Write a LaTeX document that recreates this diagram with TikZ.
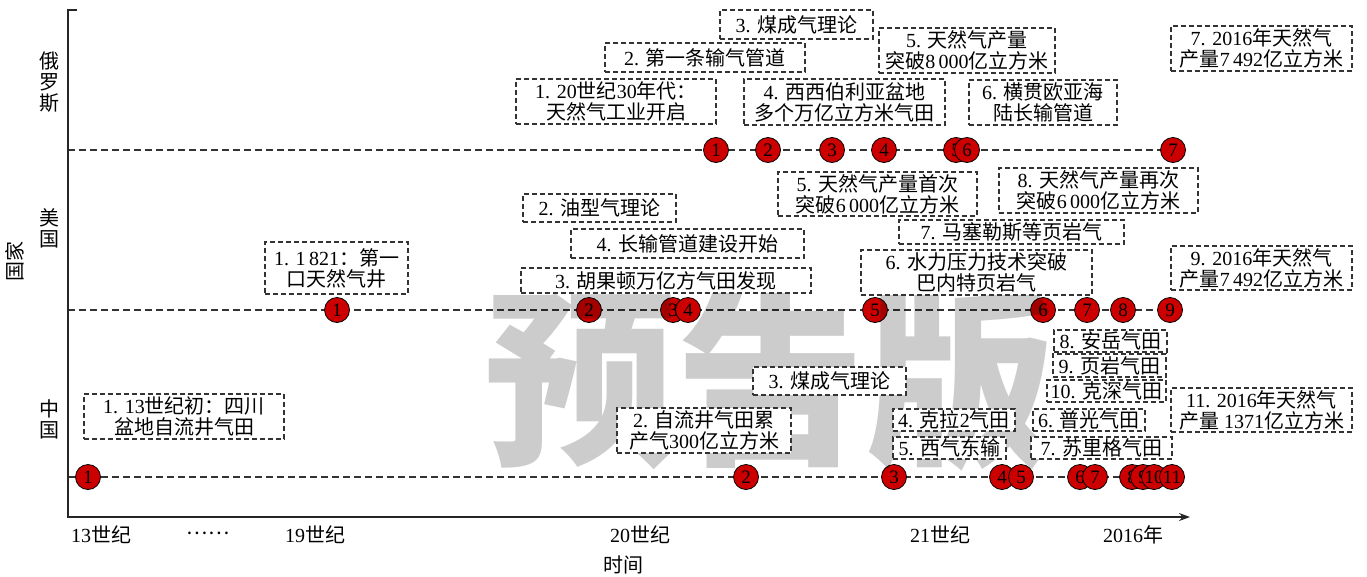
\documentclass[tikz,border=0pt]{standalone}
\usepackage{fontspec}
\setmainfont{Liberation Serif}
\newfontfamily\cjk{Noto Sans CJK SC}
\usetikzlibrary{arrows.meta,backgrounds}
\XeTeXinterchartokenstate=1
\newXeTeXintercharclass\CJKcls
\makeatletter
\count@="3000
\loop\ifnum\count@<"3040 \XeTeXcharclass\count@=\CJKcls \advance\count@ 1 \repeat
\count@="4E00
\loop\ifnum\count@<"A000 \XeTeXcharclass\count@=\CJKcls \advance\count@ 1 \repeat
\count@="FF00
\loop\ifnum\count@<"FF60 \XeTeXcharclass\count@=\CJKcls \advance\count@ 1 \repeat
\makeatother
\XeTeXinterchartoks 0 \CJKcls={\begingroup\cjk}
\XeTeXinterchartoks 4095 \CJKcls={\begingroup\cjk}
\XeTeXinterchartoks \CJKcls 0={\endgroup}
\XeTeXinterchartoks \CJKcls 4095={\endgroup}
\definecolor{dotred}{HTML}{CC0000}
\definecolor{ln}{HTML}{333333}
\newcommand\bxfont{\fontsize{20}{21}\selectfont}
\newcommand\dtfont{\fontsize{19}{19}\selectfont}
\tikzset{
  box/.style={draw=ln, dash pattern=on 5pt off 3pt, line width=1.1pt, fill=white, inner sep=0pt, align=center, font=\bxfont},
  dot/.style={circle, draw=black, line width=0.8pt, fill=dotred, minimum size=25pt, inner sep=0pt, font=\dtfont},
  tline/.style={draw=ln, line width=1.1pt, dash pattern=on 7pt off 4pt},
  axisline/.style={draw=black!85, line width=1.4pt},
  lab/.style={font=\bxfont, inner sep=0pt, align=center},
  wm/.style={font=\cjk\bfseries\fontsize{190}{190}\selectfont, text=black, text opacity=0.2, inner sep=0pt}
}
\begin{document}
\begin{tikzpicture}[x=1pt,y=-1pt]
\useasboundingbox (0,0) rectangle (1367,576);
% axes
\coordinate (atop) at (77,10);
\coordinate (acorner) at (68,10);
\coordinate (aorigin) at (68,517);
\coordinate (aend) at (1190,517);
\draw[axisline, -{Stealth[length=11pt,width=8pt]}] (atop) -- (acorner) -- (aorigin) -- (aend);
% timeline start points
\coordinate (rs) at (68,150);
\coordinate (us) at (68,310);
\coordinate (cs) at (68,477);
% circles
\node[dot] (r1) at (716,150) {1};
\node[dot] (r2) at (768,150) {2};
\node[dot] (r3) at (832,150) {3};
\node[dot] (r4) at (884,150) {4};
\node[dot] (r5) at (956,150) {5};
\node[dot] (r6) at (967,150) {6};
\node[dot] (r7) at (1173,150) {7};
\node[dot] (u1) at (337,310) {1};
\node[dot] (u2) at (589,310) {2};
\node[dot] (u3) at (673,310) {3};
\node[dot] (u4) at (688,310) {4};
\node[dot] (u5) at (875,310) {5};
\node[dot] (u6) at (1043,310) {6};
\node[dot] (u7) at (1087,310) {7};
\node[dot] (u8) at (1123,310) {8};
\node[dot] (u9) at (1170,310) {9};
\node[dot] (c1) at (88,477) {1};
\node[dot] (c2) at (746,477) {2};
\node[dot] (c3) at (894,477) {3};
\node[dot] (c4) at (1002,477) {4};
\node[dot] (c5) at (1021,477) {5};
\node[dot] (c6) at (1080,477) {6};
\node[dot] (c7) at (1095,477) {7};
\node[dot] (c8) at (1132,477) {8};
\node[dot] (c9) at (1143,477) {9};
\node[dot] (c10) at (1154,477) {10};
\node[dot] (c11) at (1172,477) {11};
% dashed timelines behind circles
\begin{scope}[on background layer]
\draw[tline] (rs) -- (r1.center) -- (r7.center);
\draw[tline] (us) -- (u1.center) -- (u9.center);
\draw[tline] (cs) -- (c1.center) -- (c11.center);
\end{scope}
% watermark
\node[wm] (wmk) at (770,380) {预告版};
% Russia boxes
\node[box, minimum width=153pt, minimum height=29pt] (rb3) at (796.5,24.5) {3. 煤成气理论};
\node[box, minimum width=200pt, minimum height=29pt] (rb2) at (705,57.5) {2. 第一条输气管道};
\node[box, minimum width=200pt, minimum height=45pt] (rb1) at (616,101.5) {1. 20世纪30年代：\\天然气工业开启};
\node[box, minimum width=201pt, minimum height=46pt] (rb4) at (844.5,102) {4. 西西伯利亚盆地\\多个万亿立方米气田};
\node[box, minimum width=176pt, minimum height=45pt] (rb5) at (967,50.5) {5. 天然气产量\\突破8\,000亿立方米};
\node[box, minimum width=148pt, minimum height=45pt] (rb6) at (1043,102.5) {6. 横贯欧亚海\\陆长输管道};
\node[box, minimum width=181pt, minimum height=45pt] (rb7) at (1261.5,48.5) {7. 2016年天然气\\产量7\,492亿立方米};
% US boxes
\node[box, minimum width=143pt, minimum height=52pt] (ub1) at (336.5,268) {1. 1\,821：第一\\口天然气井};
\node[box, minimum width=153pt, minimum height=28pt] (ub2) at (599.5,208) {2. 油型气理论};
\node[box, minimum width=233pt, minimum height=29pt] (ub4) at (687.5,243.5) {4. 长输管道建设开始};
\node[box, minimum width=290pt, minimum height=25pt] (ub3) at (666,280.5) {3. 胡果顿万亿方气田发现};
\node[box, minimum width=199pt, minimum height=44pt] (ub5) at (877.5,194) {5. 天然气产量首次\\突破6\,000亿立方米};
\node[box, minimum width=199pt, minimum height=45pt] (ub8) at (1098.5,190.5) {8. 天然气产量再次\\突破6\,000亿立方米};
\node[box, minimum width=225pt, minimum height=24pt] (ub7) at (1011.5,232) {7. 马塞勒斯等页岩气};
\node[box, minimum width=231pt, minimum height=45pt] (ub6) at (976.5,272.5) {6. 水力压力技术突破\\巴内特页岩气};
\node[box, minimum width=181pt, minimum height=44pt] (ub9) at (1261.5,268) {9. 2016年天然气\\产量7\,492亿立方米};
% China boxes
\node[box, minimum width=200pt, minimum height=45pt] (cb1) at (184,416.5) {1. 13世纪初：四川\\盆地自流井气田};
\node[box, minimum width=174pt, minimum height=45pt] (cb2) at (704,430.5) {2. 自流井气田累\\产气300亿立方米};
\node[box, minimum width=153pt, minimum height=28pt] (cb3) at (829.5,381) {3. 煤成气理论};
\node[box, minimum width=122pt, minimum height=22pt] (cb4) at (954,420) {4. 克拉2气田};
\node[box, minimum width=113pt, minimum height=22pt] (cb5) at (949.5,448) {5. 西气东输};
\node[box, minimum width=112pt, minimum height=22pt] (cb6) at (1089,420) {6. 普光气田};
\node[box, minimum width=141pt, minimum height=22pt] (cb7) at (1101.5,448) {7. 苏里格气田};
\node[box, minimum width=113pt, minimum height=22pt] (cb8) at (1110.5,341) {8. 安岳气田};
\node[box, minimum width=113pt, minimum height=23pt] (cb9) at (1109.5,365.5) {9. 页岩气田};
\node[box, minimum width=119pt, minimum height=22pt] (cb10) at (1106.5,391) {10. 克深气田};
\node[box, minimum width=181pt, minimum height=44pt] (cb11) at (1261.5,410) {11. 2016年天然气\\产量 1371亿立方米};
% axis labels
\node[lab] (lru) at (49,82) {俄\\罗\\斯};
\node[lab] (lus) at (49,228) {美\\国};
\node[lab] (lcn) at (49,419) {中\\国};
\node[lab, rotate=90] (lcountry) at (15,261) {国家};
\node[lab] (t13) at (101,535) {13世纪};
\node[lab] (tdots) at (208,533) {{\cjk ……}};
\node[lab] (t19) at (315,535) {19世纪};
\node[lab] (t20) at (640,535) {20世纪};
\node[lab] (t21) at (940,535) {21世纪};
\node[lab] (t2016) at (1133,535) {2016年};
\node[lab] (ttime) at (623,565) {时间};
\end{tikzpicture}
\end{document}
